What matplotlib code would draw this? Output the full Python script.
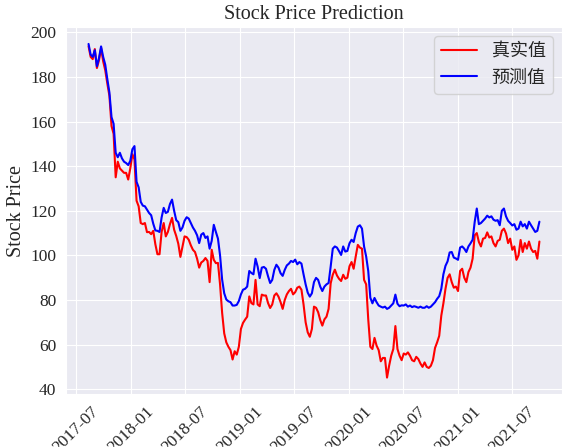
import matplotlib
matplotlib.use('Agg')
import matplotlib.pyplot as plt
import matplotlib.dates as mdates
import seaborn as sns
import pandas as pd

sns.set_style('darkgrid')
# serif for latin text, CJK font for the legend labels
plt.rcParams['font.family'] = ['Liberation Serif', 'Noto Sans CJK SC']
plt.rcParams['axes.unicode_minus'] = False

# weekly samples
start_date = '2017-08-11'

real_price = [
    193.8, 189, 188, 192.5, 184, 187.5, 193, 187, 183, 177,
    171.5, 158, 154.5, 135, 142, 139, 138, 137, 137, 134,
    139, 145.4, 143, 124.5, 122, 114.5, 114, 114.5, 110.4, 110.5,
    109.5, 111, 105, 100.5, 100.5, 110.5, 114.5, 108.5, 110.5, 114,
    116.8, 111.5, 108.7, 105.2, 99.3, 104, 108.5, 108.2, 107, 104.5,
    102.5, 101.5, 98.5, 94.5, 96.8, 97.5, 98.8, 97.5, 88, 102.5,
    98, 96.5, 96.6, 87, 74.2, 65, 61, 59, 57.5, 53.3,
    57, 55.5, 59, 67, 69.7, 71.2, 72.5, 81.6, 78.6, 78,
    89, 78, 77.2, 82.4, 82, 82, 78.6, 76.4, 78, 82,
    83, 81.5, 79, 76, 80, 82.5, 84, 85, 82.5, 83.5,
    85.5, 86, 84.6, 78, 70, 65.5, 63.5, 67, 77, 76.5,
    74.5, 71, 68.5, 71.3, 72.5, 76, 87.5, 91.3, 93.6, 91,
    89.5, 88.5, 91.3, 89.5, 90, 95.1, 97, 94, 99.5, 104.7,
    103.5, 103, 89, 87, 71.3, 59, 58, 63, 59.5, 57.5,
    52.5, 54, 54, 45.2, 50.5, 55, 58, 68.3, 58, 55,
    53, 56, 55.5, 56.5, 55, 53, 52.5, 54.5, 53.5, 51.5,
    50, 52, 50, 49.5, 50.5, 53, 58.5, 61, 63.9, 73,
    78.5, 85, 89.9, 91.5, 88, 85.5, 86, 84, 93, 94,
    90, 88, 92.5, 94.5, 98.5, 109, 110, 106, 104, 107.5,
    107.8, 110.3, 108, 108.5, 105.5, 104, 106.5, 107, 111, 112,
    109.8, 105.5, 107.5, 102.5, 104, 98, 100, 106.9, 101.5, 105.5,
    103, 106.2, 103, 101.5, 102, 98.5, 106.2,
]

pred_price = [
    194.8, 190, 189, 192, 184.8, 188.5, 193.7, 189, 185.5, 179,
    173, 162, 159, 146, 144, 146, 143.5, 142, 141.4, 140.5,
    142.4, 147.6, 149, 133, 130.5, 124, 122.3, 122, 120.5, 119,
    118, 114.2, 111.2, 111, 110.5, 117, 121.3, 119, 119.5, 123,
    125, 120, 115.8, 114.9, 111, 112.5, 115.5, 117.1, 116.5, 114.5,
    112.5, 111, 109, 105.5, 109.3, 110, 107.8, 108.5, 103, 106.5,
    113.7, 110.5, 107.5, 100, 89.1, 83, 80.2, 79.4, 79, 77.5,
    77.5, 77.8, 79.5, 82.5, 84.6, 85, 86, 93, 92.1, 91.5,
    98.5, 95, 89.8, 94.5, 94.8, 94, 90.6, 87.6, 89, 93.5,
    95.8, 94.5, 92, 90.8, 93.5, 95.5, 96.3, 97.5, 97, 98.1,
    96, 97, 96.3, 91.5, 87, 83.3, 81.5, 83, 88, 89.9,
    89, 86, 84, 86, 87, 87.6, 95, 103, 104, 103.5,
    101.9, 100.2, 104, 101.7, 102, 105.4, 107, 106, 110, 112.9,
    113.5, 112, 104, 99.5, 93, 81, 78.5, 80.9, 79, 77.5,
    77, 76.6, 77, 76, 76.5, 77.5, 78.5, 82.4, 78.3, 77.2,
    77.6, 77.5, 78, 77, 77.5, 76.8, 77.2, 76.9, 76.5, 77,
    76.5, 76.5, 77.2, 76.5, 77, 78, 79, 80.5, 81.7, 85,
    91.5, 95.3, 97.3, 101.3, 101.5, 99, 98.6, 98, 103.5, 104,
    103, 101.5, 104, 105.4, 107, 115, 121, 114, 114.5, 115.5,
    116.5, 117.8, 117, 117.5, 116, 115.5, 115.8, 113.5, 120, 121,
    117.5, 115.5, 114.5, 113.4, 114, 111.5, 112, 115.1, 113, 114,
    112, 115.1, 113.5, 112, 110.5, 111, 115.1,
]

dates = pd.date_range(start_date, periods=len(real_price), freq='7D')

fig = plt.figure(figsize=(5.74, 4.47), dpi=100)
ax = fig.add_axes([0.115, 0.118, 0.864, 0.821])

ax.plot(dates, real_price, color='red', linewidth=1.5, label='真实值')
ax.plot(dates, pred_price, color='blue', linewidth=1.5, label='预测值')

ax.xaxis.set_major_locator(mdates.MonthLocator(bymonth=[1, 7]))
ax.xaxis.set_major_formatter(mdates.DateFormatter('%Y-%m'))
plt.xticks(rotation=45, fontsize=12.5)
plt.yticks(fontsize=12.5)

ax.set_title('Stock Price Prediction', fontsize=14.5)
ax.set_ylabel('Stock Price', fontsize=14.5, labelpad=3)
ax.legend(loc='upper right', fontsize=13)

fig.savefig('out.png', dpi=100)
